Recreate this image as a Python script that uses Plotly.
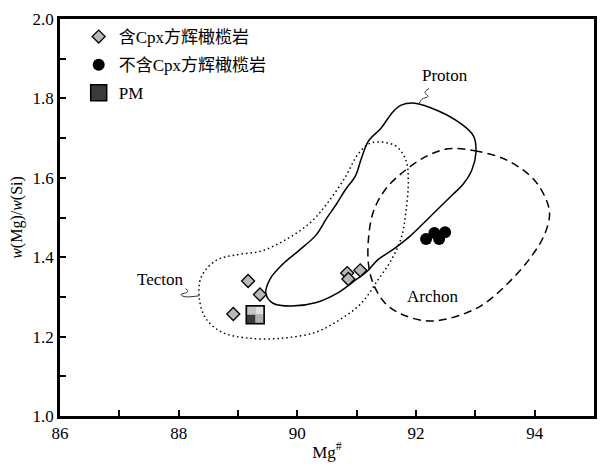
import plotly.graph_objects as go

# ---- samples: Mg# and w(Mg)/w(Si) ----
cpx_mg = [89.17, 89.37, 88.92, 90.84, 90.86, 91.06]
cpx_ratio = [1.340, 1.306, 1.257, 1.360, 1.345, 1.367]

nocpx_mg = [92.17, 92.31, 92.39, 92.49]
nocpx_ratio = [1.446, 1.461, 1.446, 1.463]

pm_mg = [89.29]
pm_ratio = [1.255]

# ---- lithospheric mantle fields (outline vertices) ----
proton_mg = [91.75, 91.98, 92.37, 92.75, 92.97, 93.01, 92.94, 92.79, 92.62, 92.40,
             92.17, 91.90, 91.61, 91.36, 91.16, 90.94, 90.69, 90.32, 89.89, 89.59,
             89.47, 89.54, 89.75, 90.02, 90.31, 90.49, 90.66, 90.81, 90.98, 91.08,
             91.20, 91.41, 91.61]
proton_ratio = [1.783, 1.788, 1.769, 1.737, 1.705, 1.663, 1.619, 1.583, 1.558, 1.526,
                1.492, 1.453, 1.419, 1.394, 1.362, 1.338, 1.311, 1.286, 1.277, 1.284,
                1.308, 1.345, 1.382, 1.416, 1.455, 1.497, 1.534, 1.570, 1.605, 1.649,
                1.693, 1.725, 1.766]

tecton_mg = [91.25, 91.65, 91.83, 91.87, 91.83, 91.75, 91.58, 91.36, 91.08, 90.74,
             90.31, 89.74, 89.18, 88.73, 88.46, 88.35, 88.38, 88.63, 88.97, 89.40,
             89.85, 90.24, 90.52, 90.81, 91.03]
tecton_ratio = [1.688, 1.681, 1.644, 1.595, 1.514, 1.448, 1.392, 1.343, 1.284, 1.245,
                1.211, 1.196, 1.196, 1.211, 1.245, 1.294, 1.350, 1.392, 1.406, 1.416,
                1.448, 1.490, 1.539, 1.602, 1.661]

archon_mg = [92.54, 92.99, 93.54, 93.99, 94.21, 94.25, 94.16, 93.93, 93.54, 93.09,
             92.54, 92.15, 91.75, 91.48, 91.28, 91.20, 91.20, 91.28, 91.48, 91.82,
             92.20]
archon_ratio = [1.673, 1.668, 1.644, 1.595, 1.539, 1.504, 1.455, 1.399, 1.333, 1.277,
                1.245, 1.240, 1.257, 1.284, 1.333, 1.382, 1.448, 1.514, 1.570, 1.619,
                1.656]

# ---- field names and their leader lines ----
field_names = ["Proton", "Tecton", "Archon"]
field_label_mg = [92.49, 87.70, 92.28]
field_label_ratio = [1.857, 1.343, 1.301]

proton_leader_mg = [92.22, 92.15, 92.20, 92.10, 92.05]
proton_leader_ratio = [1.825, 1.815, 1.805, 1.798, 1.786]
tecton_leader_mg = [88.12, 88.15, 88.04, 88.09, 88.35]
tecton_leader_ratio = [1.321, 1.313, 1.306, 1.301, 1.303]

# ---- axes ----
x_range = [86, 95]
y_range = [1.0, 2.0]
x_ticks = [86, 88, 90, 92, 94]
y_ticks = [1.0, 1.2, 1.4, 1.6, 1.8, 2.0]

SERIF = "Liberation Serif, Times New Roman, serif"
MIXED = "Liberation Serif, Noto Sans CJK SC, serif"


def closed(xs, ys):
    return list(xs) + [xs[0]], list(ys) + [ys[0]]


fig = go.Figure()

# field outlines
px_, py_ = closed(tecton_mg, tecton_ratio)
fig.add_trace(go.Scatter(x=px_, y=py_, mode="lines", showlegend=False, hoverinfo="skip",
                         line=dict(color="black", width=1.5, dash="1.5px,3px", shape="spline", smoothing=1.0)))
px_, py_ = closed(archon_mg, archon_ratio)
fig.add_trace(go.Scatter(x=px_, y=py_, mode="lines", showlegend=False, hoverinfo="skip",
                         line=dict(color="black", width=1.5, dash="8px,5px", shape="spline", smoothing=1.0)))
px_, py_ = closed(proton_mg, proton_ratio)
fig.add_trace(go.Scatter(x=px_, y=py_, mode="lines", showlegend=False, hoverinfo="skip",
                         line=dict(color="black", width=1.5, shape="spline", smoothing=1.0)))

# leaders
for lx, ly in [(proton_leader_mg, proton_leader_ratio), (tecton_leader_mg, tecton_leader_ratio)]:
    fig.add_trace(go.Scatter(x=lx, y=ly, mode="lines", showlegend=False, hoverinfo="skip",
                             line=dict(color="#333", width=1, shape="spline", smoothing=1.3)))

# samples
fig.add_trace(go.Scatter(x=cpx_mg, y=cpx_ratio, mode="markers", name="含Cpx方辉橄榄岩",
                         legendgroup="a",
                         marker=dict(symbol="diamond", size=10, color="#b8b8b8",
                                     line=dict(color="black", width=1.3))))
fig.add_trace(go.Scatter(x=nocpx_mg, y=nocpx_ratio, mode="markers", name="不含Cpx方辉橄榄岩",
                         legendgroup="b",
                         marker=dict(symbol="circle", size=12, color="black",
                                     line=dict(color="black", width=0))))
fig.add_trace(go.Scatter(x=pm_mg, y=pm_ratio, mode="markers", name="PM",
                         legendgroup="c",
                         marker=dict(symbol="square", size=18, color="#3a3a3a",
                                     line=dict(color="black", width=1.5))))

# checkered quadrants on the PM symbol
quads = [(-8, 0, 0, 8, "#c4c4c4"), (0, 8, 0, 8, "#e2e2e2"), (0, 8, -8, 0, "#b0b0b0")]
for x0, x1, y0, y1, c in quads:
    fig.add_shape(type="rect", xref="x", yref="y", xsizemode="pixel", ysizemode="pixel",
                  xanchor=pm_mg[0], yanchor=pm_ratio[0], x0=x0, x1=x1, y0=y0, y1=y1,
                  fillcolor=c, line=dict(width=0), layer="above")

for name, lx, ly in zip(field_names, field_label_mg, field_label_ratio):
    fig.add_annotation(x=lx, y=ly, text=name, showarrow=False,
                       font=dict(family=SERIF, size=17, color="black"))

axis_common = dict(showline=True, linecolor="black", linewidth=2.5, mirror=True,
                   ticks="inside", ticklen=6, tickwidth=1.5, tickcolor="black",
                   showgrid=False, zeroline=False,
                   tickfont=dict(family=SERIF, size=17, color="black"))

fig.update_xaxes(range=x_range, tickvals=x_ticks, ticktext=[str(v) for v in x_ticks],
                 minor=dict(dtick=1, tick0=86, ticks="inside", ticklen=6, tickwidth=1.5,
                            tickcolor="black"),
                 title=dict(text="Mg<sup>#</sup>", font=dict(family=SERIF, size=17, color="black"),
                            standoff=4),
                 **axis_common)
fig.update_yaxes(range=y_range, tickvals=y_ticks, ticktext=[f"{v:.1f}" for v in y_ticks],
                 minor=dict(dtick=0.1, tick0=1.0, ticks="inside", ticklen=6, tickwidth=1.5,
                            tickcolor="black"),
                 title=dict(text="<i>w</i>(Mg)/<i>w</i>(Si)",
                            font=dict(family=SERIF, size=16, color="black"), standoff=6),
                 **axis_common)

fig.update_layout(
    width=607, height=469,
    margin=dict(l=60, r=10, t=14, b=46),
    paper_bgcolor="white", plot_bgcolor="white",
    legend=dict(x=0.035, y=1.0, xanchor="left", yanchor="top",
                bgcolor="rgba(0,0,0,0)", tracegroupgap=3,
                font=dict(family=MIXED, size=17, color="black")),
)

fig.write_html("out.html")
